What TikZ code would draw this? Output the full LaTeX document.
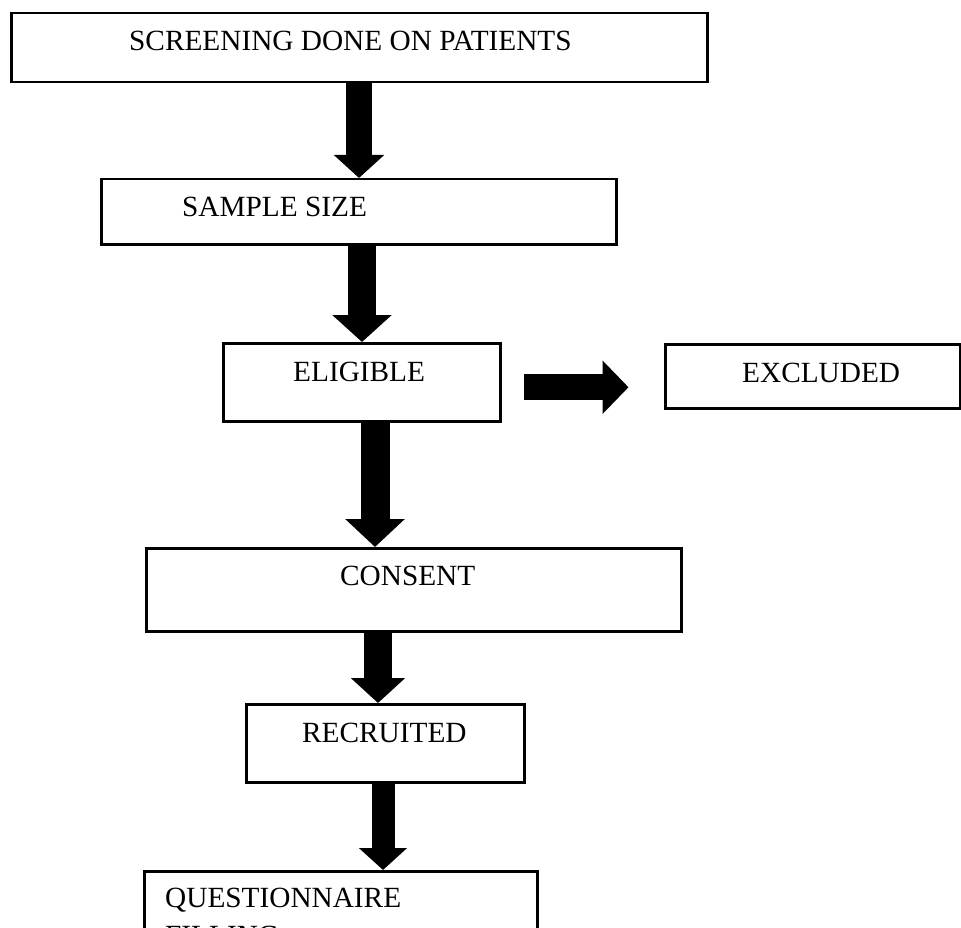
\documentclass[tikz,border=0pt]{standalone}
\usepackage{fontspec}
\setmainfont{Liberation Serif}
\usepackage{tikz}
\usetikzlibrary{arrows.meta,calc}

\begin{document}
\begin{tikzpicture}[x=1pt,y=-1pt,
  box/.style={draw,line width=2.5pt,anchor=north west,inner sep=0pt},
  lbl/.style={anchor=base west,inner sep=0pt,font=\fontsize{29.3pt}{34pt}\selectfont},
  fatarrow/.style={line width=#1}]
\useasboundingbox (0,0) rectangle (961,928);

% Boxes
\node[box,minimum width=696pt,minimum height=69pt] (screen) at (10,12) {};
\node[box,minimum width=515pt,minimum height=65pt] (sample) at (100,178) {};
\node[box,minimum width=277pt,minimum height=78pt] (eligible) at (222,342) {};
\node[box,minimum width=295pt,minimum height=64pt] (excluded) at (664,343) {};
\node[box,minimum width=535pt,minimum height=83pt] (consent) at (145,547) {};
\node[box,minimum width=278pt,minimum height=78pt] (recruited) at (245,703) {};
\node[box,minimum width=393pt,minimum height=100pt] (quest) at (143,870) {};

% Texts
\node[lbl] (screentxt) at (129,51) {SCREENING DONE ON PATIENTS};
\node[lbl] (sampletxt) at (182,217) {SAMPLE SIZE};
\node[lbl] (eligibletxt) at (293,381) {ELIGIBLE};
\node[lbl] (excludedtxt) at (742,382) {EXCLUDED};
\node[lbl] (consenttxt) at (340,585) {CONSENT};
\node[lbl] (recruitedtxt) at (302,742) {RECRUITED};
\node[lbl] (questtxt) at (165,907) {QUESTIONNAIRE};
\node[lbl] (questtxtb) at (165,945) {FILLING};

% Arrow columns
\coordinate (a1) at (359,0);
\coordinate (a2) at (362,0);
\coordinate (a3) at (375,0);
\coordinate (a4) at (378,0);
\coordinate (a5) at (383,0);

% Down arrows
\draw[fatarrow=26pt,-{Triangle[length=23pt,width=49pt]}] (screen.south -| a1) -- (sample.north -| a1);
\draw[fatarrow=28pt,-{Triangle[length=27pt,width=58pt]}] (sample.south -| a2) -- (eligible.north -| a2);
\draw[fatarrow=29pt,-{Triangle[length=28pt,width=58pt]}] (eligible.south -| a3) -- (consent.north -| a3);
\draw[fatarrow=28pt,-{Triangle[length=25pt,width=53pt]}] (consent.south -| a4) -- (recruited.north -| a4);
\draw[fatarrow=23pt,-{Triangle[length=22pt,width=47pt]}] (recruited.south -| a5) -- (quest.north -| a5);

% Side arrow
\draw[fatarrow=26pt,-{Triangle[length=26pt,width=52pt]}] ([xshift=22pt,yshift=-5pt]eligible.east) -- ++(105,0);
\end{tikzpicture}
\end{document}
